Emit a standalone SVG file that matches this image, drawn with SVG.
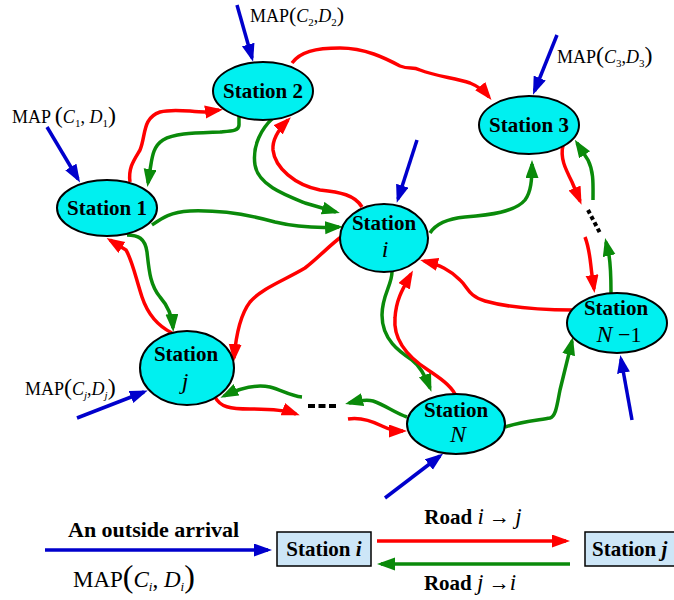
<svg xmlns="http://www.w3.org/2000/svg" width="674" height="600" viewBox="0 0 674 600">
<style>
.st{fill:#00F0F0;stroke:#000;stroke-width:2}
.lb{font-family:"Liberation Serif","Times New Roman",serif;font-weight:bold;font-size:21px;fill:#000}
.it{font-family:"Liberation Serif","Times New Roman",serif;font-style:italic;font-size:24px;fill:#000}
.mp{font-family:"Liberation Serif","Times New Roman",serif;font-size:18px;fill:#000}
.r{fill:none;stroke:#FF0000;stroke-width:3.5;marker-end:url(#ar)}
.g{fill:none;stroke:#0A8A0A;stroke-width:3.5;marker-end:url(#ag)}
.b{fill:none;stroke:#0000CC;stroke-width:3.5;marker-end:url(#ab)}
.dots{fill:none;stroke:#000;stroke-width:4}
.box{fill:#CDE6F7;stroke:#000;stroke-width:1.5}
</style>
<defs>
<marker id="ar" markerUnits="userSpaceOnUse" markerWidth="18" markerHeight="14" refX="14" refY="6.5" orient="auto"><path d="M0,0 L18,6.5 L0,13 z" fill="#FF0000"/></marker>
<marker id="ag" markerUnits="userSpaceOnUse" markerWidth="18" markerHeight="14" refX="14" refY="6.5" orient="auto"><path d="M0,0 L18,6.5 L0,13 z" fill="#0A8A0A"/></marker>
<marker id="ab" markerUnits="userSpaceOnUse" markerWidth="18" markerHeight="14" refX="14" refY="6.5" orient="auto"><path d="M0,0 L18,6.5 L0,13 z" fill="#0000CC"/></marker>
</defs>
<rect width="674" height="600" fill="#fff"/>

<g id="connectors">
<path class="r" d="M130,182 C128,168 134,160 140,150 C146,136 142,118 160,112 C175,108 190,112 205,112 L219,110"/>
<path class="g" d="M239,115 L239,125 C239,131 232,131 220,132 C195,133 175,133 163,140 C152,147 152,160 150,170 L148,183"/>
<path class="g" d="M152,225 C162,218 170,212 190,211 C220,210 250,215 275,222 C300,228 320,228 339,227"/>
<path class="g" d="M273,118 C262,128 252,145 255,165 C258,185 285,195 305,203 L336,212"/>
<path class="r" d="M362,207 C355,195 340,192 320,190 C295,185 275,168 273,150 C272,138 280,128 288,120"/>
<path class="r" d="M292,63 C300,52 315,48 340,48 C365,48 385,58 400,66 C410,70 412,66 420,70 C435,76 455,78 470,83 C480,87 485,92 489,97"/>
<path class="g" d="M430,233 C435,225 445,219 465,217 C490,215 515,212 525,200 C531,192 532,180 532,164"/>
<path class="r" d="M563,145 C560,158 565,168 572,182 L580,201"/>
<path class="g" d="M593,200 C593,185 594,172 588,160 L577,143"/>
<line class="dots" x1="588" y1="210" x2="600" y2="233" stroke-dasharray="4,3"/>
<path class="r" d="M585,237 C590,250 590,260 592,275 L594,289"/>
<path class="g" d="M611,293 C611,280 611,268 609,255 L606,242"/>
<path class="r" d="M573,310 C545,310 510,308 485,301 C468,296 468,287 460,280 C450,270 440,265 424,261"/>
<path class="g" d="M392,272 C392,285 382,295 382,315 C382,340 400,352 412,360 C420,366 425,375 430,388"/>
<path class="r" d="M455,394 C450,385 440,378 428,370 C408,357 393,340 395,318 C396,300 402,290 411,274"/>
<path class="g" d="M505,427 C520,422 540,420 550,418 C556,416 557,405 560,390 L572,341"/>
<path class="g" d="M407,417 C395,413 385,405 373,401 C365,399 357,401 349,403"/>
<path class="r" d="M348,419 C360,417 370,420 382,426 C390,430 395,431 403,431"/>
<line class="dots" x1="308" y1="406" x2="336" y2="406" stroke-dasharray="7,3.5"/>
<path class="g" d="M302,397 C290,396 282,390 270,387 C255,384 240,388 224,396"/>
<path class="r" d="M215,397 C220,407 230,409 250,409 C270,409 285,410 296,414"/>
<path class="r" d="M172,333 C160,327 148,315 142,297 C135,275 132,260 126,250 L110,240"/>
<path class="g" d="M127,235 C138,235 145,238 147,252 C149,270 150,285 160,297 C168,306 172,315 173,328"/>
<path class="r" d="M341,237 C330,245 318,258 305,268 C285,280 262,288 250,302 C240,315 236,335 234,358"/>
<path class="b" d="M237,5 L252,58"/>
<path class="b" d="M47,127 L78,179"/>
<path class="b" d="M557,35 L534.5,91"/>
<path class="b" d="M417,140 L398,199"/>
<path class="b" d="M632,420 L621,359"/>
<path class="b" d="M385,498 L440,456"/>
<path class="b" d="M77,418 L144,392"/>
</g>

<g id="station1"><ellipse class="st" cx="107" cy="208" rx="50" ry="28"/><text class="lb" x="107" y="215" text-anchor="middle">Station 1</text></g>
<g id="station2"><ellipse class="st" cx="263" cy="91" rx="50" ry="29"/><text class="lb" x="263" y="98" text-anchor="middle">Station 2</text></g>
<g id="station3"><ellipse class="st" cx="529" cy="125" rx="50" ry="29"/><text class="lb" x="529" y="132" text-anchor="middle">Station 3</text></g>
<g id="stationi"><ellipse class="st" cx="384" cy="238" rx="44" ry="34"/><text class="lb" x="384" y="230" text-anchor="middle">Station</text><text class="it" x="385" y="257" text-anchor="middle">i</text></g>
<g id="stationj"><ellipse class="st" cx="187" cy="368" rx="47" ry="37"/><text class="lb" x="186" y="361" text-anchor="middle">Station</text><text class="it" x="185" y="389" text-anchor="middle">j</text></g>
<g id="stationN"><ellipse class="st" cx="456" cy="424" rx="49" ry="30"/><text class="lb" x="456" y="417" text-anchor="middle">Station</text><text class="it" x="458" y="442" text-anchor="middle">N</text></g>
<g id="stationN1"><ellipse class="st" cx="617" cy="323" rx="50" ry="30"/><text class="lb" x="616" y="315" text-anchor="middle">Station</text><text class="it" x="619" y="342" text-anchor="middle">N<tspan font-style="normal" font-size="22"> −1</tspan></text></g>

<g id="labels">
<text class="mp" x="12" y="123">MAP <tspan font-size="24">(</tspan><tspan font-style="italic">C</tspan><tspan font-size="11" dy="4">1</tspan><tspan dy="-4">, </tspan><tspan font-style="italic">D</tspan><tspan font-size="11" dy="4">1</tspan><tspan dy="-4" font-size="24">)</tspan></text>
<text class="mp" x="250" y="22">MAP<tspan font-size="22">(</tspan><tspan font-style="italic">C</tspan><tspan font-size="11" dy="4">2</tspan><tspan dy="-4">,</tspan><tspan font-style="italic">D</tspan><tspan font-size="11" dy="4">2</tspan><tspan dy="-4" font-size="22">)</tspan></text>
<text class="mp" x="557" y="63">MAP<tspan font-size="24">(</tspan><tspan font-style="italic">C</tspan><tspan font-size="11" dy="4">3</tspan><tspan dy="-4">,</tspan><tspan font-style="italic">D</tspan><tspan font-size="11" dy="4">3</tspan><tspan dy="-4" font-size="24">)</tspan></text>
<text class="mp" x="25" y="395">MAP<tspan font-size="24">(</tspan><tspan font-style="italic">C</tspan><tspan font-size="11" dy="4" font-style="italic">j</tspan><tspan dy="-4">,</tspan><tspan font-style="italic">D</tspan><tspan font-size="11" dy="4" font-style="italic">j</tspan><tspan dy="-4" font-size="24">)</tspan></text>
</g>

<g id="legend">
<text class="lb" x="68" y="537" style="font-size:22px">An outside arrival</text>
<path class="b" d="M45,550 L268,550"/>
<text class="mp" x="73" y="587" style="font-size:23px">MAP<tspan font-size="32">(</tspan><tspan font-style="italic">C</tspan><tspan font-size="13" dy="4" font-style="italic">i</tspan><tspan dy="-4">, </tspan><tspan font-style="italic">D</tspan><tspan font-size="13" dy="4" font-style="italic">i</tspan><tspan dy="-4" font-size="32">)</tspan></text>
<g id="legend-station-i"><rect class="box" x="277" y="532" width="94" height="34"/><text class="lb" x="324" y="556" text-anchor="middle">Station <tspan font-style="italic">i</tspan></text></g>
<path class="r" d="M377,541 L566,541"/>
<path class="g" d="M570,564 L381,564"/>
<text class="lb" x="473" y="524" text-anchor="middle">Road <tspan font-weight="normal" font-style="italic" font-size="23">i</tspan><tspan font-weight="normal"> → </tspan><tspan font-weight="normal" font-style="italic" font-size="23">j</tspan></text>
<text class="lb" x="470" y="590" text-anchor="middle">Road <tspan font-weight="normal" font-style="italic" font-size="23">j</tspan><tspan font-weight="normal"> →</tspan><tspan font-weight="normal" font-style="italic" font-size="23">i</tspan></text>
<g id="legend-station-j"><rect class="box" x="585" y="532" width="94" height="34"/><text class="lb" x="592" y="556">Station <tspan font-style="italic">j</tspan></text></g>
</g>
</svg>
